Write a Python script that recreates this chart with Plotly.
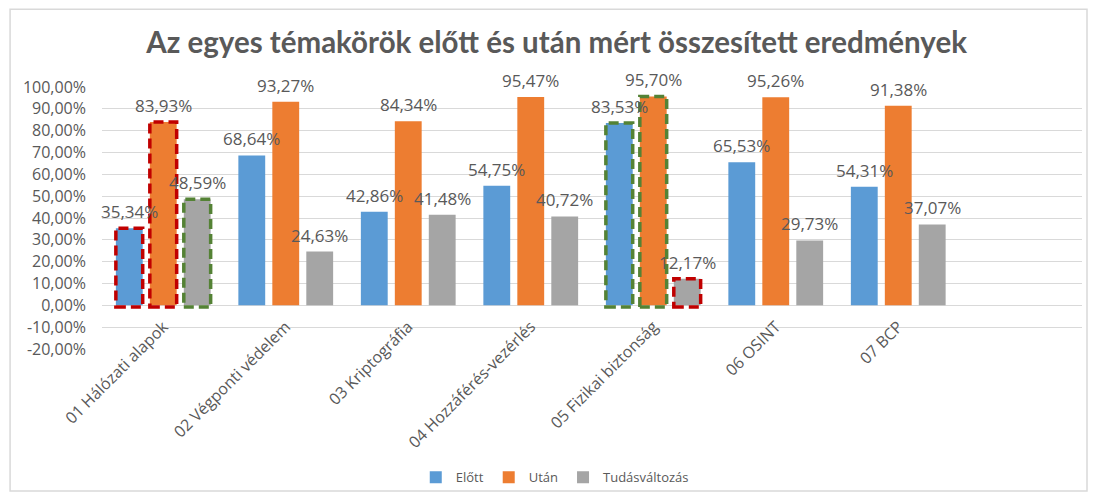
import plotly.graph_objects as go

categories = ["01 Hálózati alapok", "02 Végponti védelem", "03 Kriptográfia",
              "04 Hozzáférés-vezérlés", "05 Fizikai biztonság", "06 OSINT", "07 BCP"]
series_names = ["Előtt", "Után", "Tudásváltozás"]
elotte = [35.34, 68.64, 42.86, 54.75, 83.53, 65.53, 54.31]
utana = [83.93, 93.27, 84.34, 95.47, 95.70, 95.26, 91.38]
valtozas = [48.59, 24.63, 41.48, 40.72, 12.17, 29.73, 37.07]
y_tick_values = [-20, -10, 0, 10, 20, 30, 40, 50, 60, 70, 80, 90, 100]
y_tick_labels = ["-20,00%", "-10,00%", "0,00%", "10,00%", "20,00%", "30,00%", "40,00%",
                 "50,00%", "60,00%", "70,00%", "80,00%", "90,00%", "100,00%"]
# highlighted bars: (category index, series index, colour)
highlights = [(0, 0, "#C00000"), (0, 1, "#C00000"), (0, 2, "#548235"),
              (4, 0, "#548235"), (4, 1, "#548235"), (4, 2, "#C00000")]

colors = ["#5B9BD5", "#ED7D31", "#A5A5A5"]
all_series = [elotte, utana, valtozas]
FONT = "Open Sans"
TFONT = "Lato"
GRAY = "#595959"

BARGAP = 0.168
BARGROUPGAP = 0.21
slot = (1 - BARGAP) / 3
barw = slot * (1 - BARGROUPGAP)
offsets = [-slot, 0, slot]

xs = list(range(len(categories)))

fig = go.Figure()
for name, vals, col in zip(series_names, all_series, colors):
    fig.add_trace(go.Bar(x=xs, y=vals, name=name, marker=dict(color=col, line=dict(width=0)),
                         hoverinfo="skip"))

def fmt(v):
    return f"{v:.2f}".replace(".", ",") + "%"

annotations = []
for k, vals in enumerate(all_series):
    for i, v in enumerate(vals):
        annotations.append(dict(x=i + offsets[k], y=v, xref="x", yref="y", text=fmt(v),
                                showarrow=False, yanchor="bottom", yshift=3,
                                font=dict(family=FONT, size=17, color=GRAY)))

shapes = []
for ci, si, col in highlights:
    xc = ci + offsets[si]
    shapes.append(dict(type="rect", xref="x", yref="y", x0=xc - barw / 2, x1=xc + barw / 2,
                       y0=-0.8, y1=all_series[si][ci],
                       line=dict(color=col, width=3.5, dash="10px,5px"),
                       fillcolor="rgba(0,0,0,0)", layer="above"))

# outer chart border
shapes.append(dict(type="rect", xref="paper", yref="paper", x0=-0.0938, x1=1.0051,
                   y0=-0.542, y1=1.2967, line=dict(color="#D9D9D9", width=1.5),
                   fillcolor="rgba(0,0,0,0)", layer="below"))

fig.update_layout(
    width=1080, height=485, autosize=False,
    margin=dict(l=94, r=5.5, t=78.7, b=143.8, autoexpand=False),
    paper_bgcolor="white", plot_bgcolor="white",
    barmode="group", bargap=BARGAP, bargroupgap=BARGROUPGAP,
    title=dict(text="<b>Az egyes témakörök előtt és után mért összesített eredmények</b>",
               x=0.508, xref="container", xanchor="center", y=1 - 35 / 485, yref="container",
               yanchor="middle", font=dict(family=TFONT, size=29.5, color=GRAY)),
    xaxis=dict(tickvals=xs, ticktext=categories, range=[-0.5, 7.5], tickangle=-45,
               showgrid=False, zeroline=False, showline=False, ticks="",
               anchor="free", position=20 / 120 - 8 / 262.8, automargin=False,
               tickfont=dict(family=FONT, size=16, color=GRAY)),
    yaxis=dict(range=[-20, 100], tickvals=y_tick_values, ticktext=y_tick_labels,
               showgrid=True, gridcolor="#D9D9D9", gridwidth=1, zeroline=False,
               showline=False, ticks="", automargin=False, ticklabelstandoff=15,
               tickfont=dict(family=FONT, size=16, color=GRAY)),
    legend=dict(orientation="h", x=0.462, xanchor="center", y=-0.49, yanchor="middle",
                font=dict(family=FONT, size=13, color=GRAY), traceorder="normal",
                itemwidth=30, bgcolor="rgba(0,0,0,0)"),
    annotations=annotations, shapes=shapes,
    showlegend=True,
)

fig.write_html("out.html")
